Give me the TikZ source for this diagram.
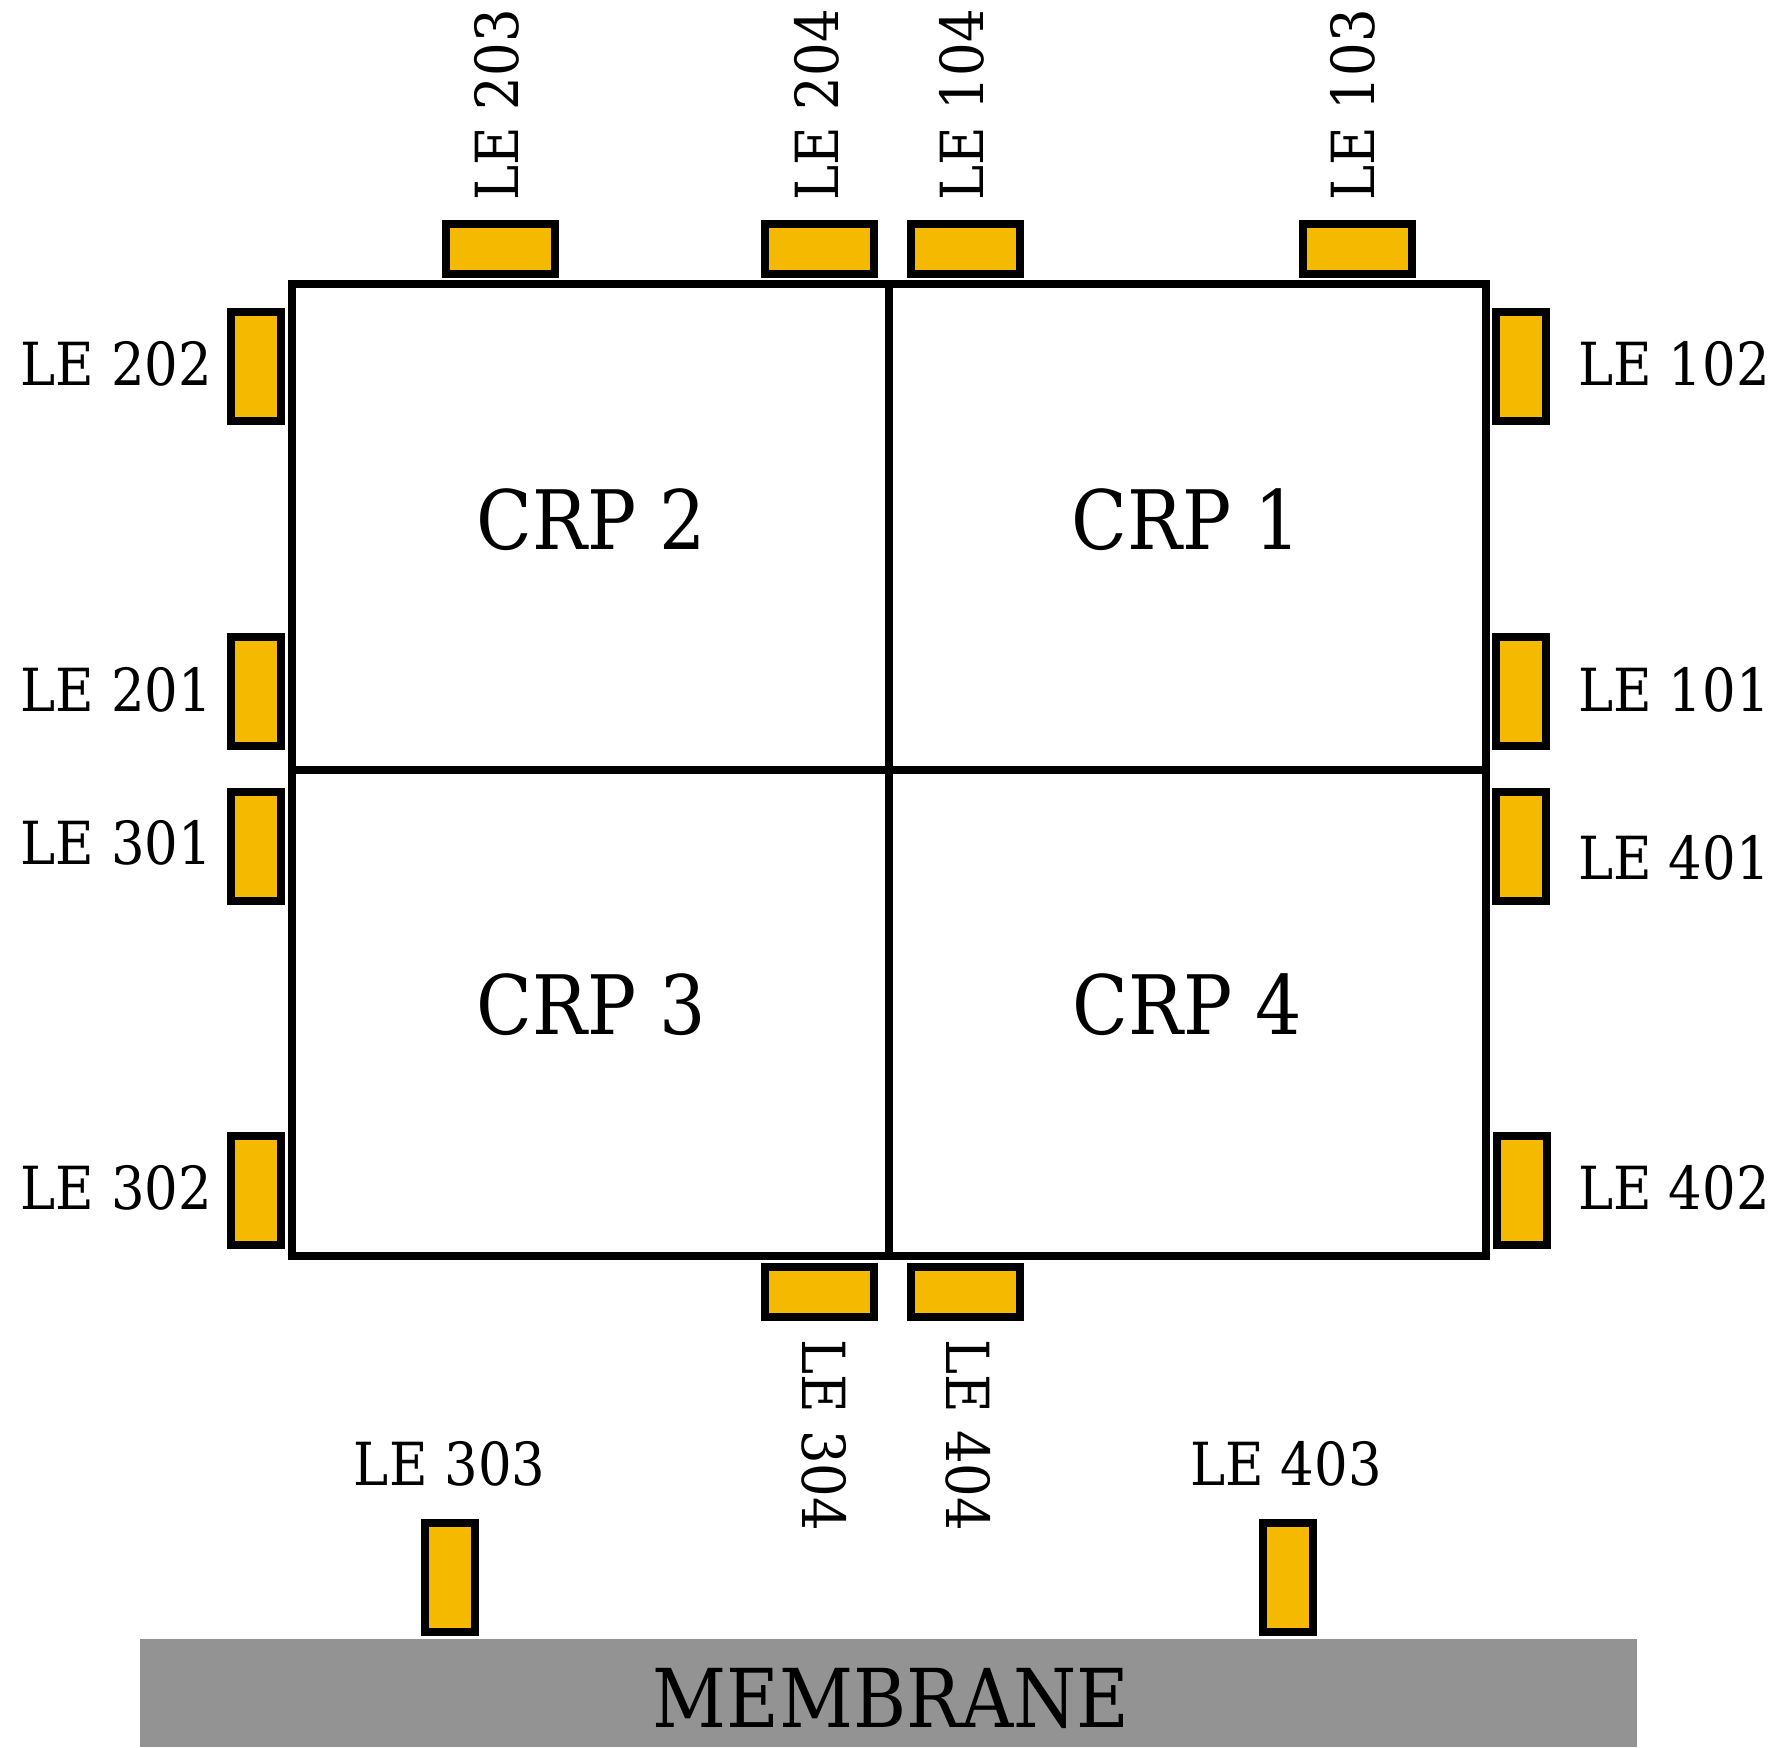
\documentclass[tikz,border=0pt]{standalone}
\usepackage{fontspec}
\setmainfont{DejaVu Serif}[FakeStretch=0.89]
\definecolor{leyellow}{RGB}{245,185,0}
\definecolor{memgray}{RGB}{147,147,147}
\begin{document}
\begin{tikzpicture}[x=0.5pt,y=-0.5pt,
  cell/.style={draw=black,line width=4pt,minimum width=298.5pt,minimum height=243pt,inner sep=0pt,outer sep=0pt},
  vbox/.style={draw=black,fill=leyellow,line width=4pt,minimum width=25pt,minimum height=54.5pt,inner sep=0pt},
  hbox/.style={draw=black,fill=leyellow,line width=4pt,minimum width=54.5pt,minimum height=25pt,inner sep=0pt},
  lab/.style={font=\fontsize{29.7}{32}\selectfont,inner sep=0pt},
  crp/.style={font=\fontsize{41}{44}\selectfont,inner sep=0pt},
  mem/.style={fill=memgray,minimum width=748.5pt,minimum height=54pt,inner sep=0pt,outer sep=0pt}]
\useasboundingbox (0,0) rectangle (1779,1747);
% membrane
\node[mem] (membrane) at (888.5,1693) {};
\node[font=\fontsize{40.6}{44}\selectfont,inner sep=0pt] (memtext) at (891,1698) {MEMBRANE};
% cells
\node[cell] (c2) at (590.5,527) {};
\node[cell] (c1) at (1187.25,527) {};
\node[cell] (c3) at (590.5,1013.35) {};
\node[cell] (c4) at (1187.25,1013.35) {};
\node[crp] (t2) at (591.5,520) {CRP 2};
\node[crp] (t1) at (1186,520) {CRP 1};
\node[crp] (t3) at (591.5,1005) {CRP 3};
\node[crp] (t4) at (1187,1005) {CRP 4};
% left boxes
\node[vbox] (b202) at (255.8,366) {};
\node[vbox] (b201) at (255.8,691.6) {};
\node[vbox] (b301) at (255.8,846.3) {};
\node[vbox] (b302) at (255.8,1190.5) {};
\node[lab,anchor=east] (l202) at (212.5,363.5) {LE 202};
\node[lab,anchor=east] (l201) at (212.5,690) {LE 201};
\node[lab,anchor=east] (l301) at (212.5,842.4) {LE 301};
\node[lab,anchor=east] (l302) at (212.5,1188) {LE 302};
% right boxes
\node[vbox] (b102) at (1520.5,366) {};
\node[vbox] (b101) at (1520.5,691.6) {};
\node[vbox] (b401) at (1520.5,846.3) {};
\node[vbox] (b402) at (1521.5,1190.7) {};
\node[lab,anchor=west] (l102) at (1578,363.5) {LE 102};
\node[lab,anchor=west] (l101) at (1578,690) {LE 101};
\node[lab,anchor=west] (l401) at (1578,858.3) {LE 401};
\node[lab,anchor=west] (l402) at (1578,1188) {LE 402};
% top boxes
\node[hbox] (b203) at (500.5,249.2) {};
\node[hbox] (b204) at (819.5,249.2) {};
\node[hbox] (b104) at (965.5,249.2) {};
\node[hbox] (b103) at (1357,249.2) {};
\node[lab,rotate=90,anchor=west] (l203) at (496.7,201) {LE 203};
\node[lab,rotate=90,anchor=west] (l204) at (816.7,201) {LE 204};
\node[lab,rotate=90,anchor=west] (l104) at (961.6,201) {LE 104};
\node[lab,rotate=90,anchor=west] (l103) at (1353,201) {LE 103};
% bottom boxes
\node[hbox] (b304) at (819.3,1291.8) {};
\node[hbox] (b404) at (965.3,1291.8) {};
\node[lab,rotate=-90,anchor=west] (l304) at (824.5,1339.3) {LE 304};
\node[lab,rotate=-90,anchor=west] (l404) at (968.3,1339.3) {LE 404};
% membrane-side boxes
\node[vbox] (b303) at (449.8,1577) {};
\node[vbox] (b403) at (1287.7,1577) {};
\node[lab] (l303) at (449.7,1464.3) {LE 303};
\node[lab] (l403) at (1286,1464.3) {LE 403};
\end{tikzpicture}
\end{document}
